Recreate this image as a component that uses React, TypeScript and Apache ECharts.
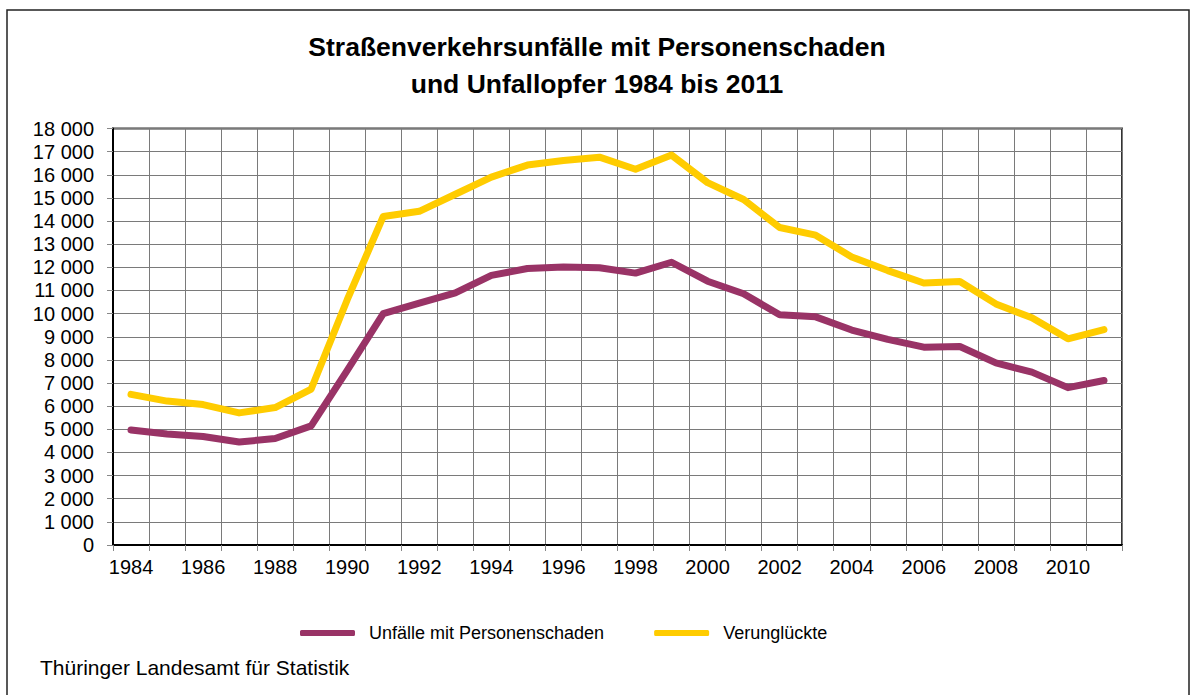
import React, { useEffect, useRef } from "react";
import * as echarts from "echarts";

const years: string[] = [
  "1984", "1985", "1986", "1987", "1988", "1989", "1990", "1991", "1992", "1993",
  "1994", "1995", "1996", "1997", "1998", "1999", "2000", "2001", "2002", "2003",
  "2004", "2005", "2006", "2007", "2008", "2009", "2010", "2011",
];

const unfaelle: number[] = [
  4970, 4800, 4690, 4450, 4600, 5150, 7550, 10000, 10450, 10900,
  11650, 11950, 12010, 11980, 11750, 12220, 11400, 10860, 9950, 9860,
  9290, 8890, 8550, 8580, 7870, 7470, 6800, 7110,
];

const verunglueckte: number[] = [
  6510, 6220, 6070, 5710, 5940, 6740, 10600, 14200, 14420, 15160,
  15900, 16420, 16620, 16760, 16240, 16850, 15660, 14930, 13720, 13390,
  12450, 11860, 11320, 11390, 10420, 9820, 8910, 9310,
];

const seriesNames: string[] = ["Unfälle mit Personenschaden", "Verunglückte"];
const titleText = "Straßenverkehrsunfälle mit Personenschaden\nund Unfallopfer 1984 bis 2011";
const sourceText = "Thüringer Landesamt für Statistik";

const FONT = "'Liberation Sans', Arial, sans-serif";

export default function App() {
  const ref = useRef<HTMLDivElement>(null);

  useEffect(() => {
    if (!ref.current) return;
    const chart = echarts.init(ref.current, null, { renderer: "svg" });
    const fmt = (v: number) =>
      String(v).replace(/\B(?=(\d{3})+(?!\d))/g, " ");

    chart.setOption({
      animation: false,
      backgroundColor: "#ffffff",
      textStyle: { fontFamily: FONT },
      title: {
        text: titleText,
        left: "center",
        top: 23,
        textStyle: {
          fontFamily: FONT,
          fontSize: 26.5,
          fontWeight: "bold",
          color: "#000",
          lineHeight: 37,
        },
      },
      legend: {
        left: 295,
        top: 619,
        icon: "roundRect",
        itemWidth: 55,
        itemHeight: 6,
        itemGap: 50,
        textStyle: {
          fontFamily: FONT,
          fontSize: 18,
          color: "#000",
          padding: [0, 0, 0, 9],
        },
        data: seriesNames,
      },
      grid: {
        left: 113,
        right: 72,
        top: 128.5,
        bottom: 150,
        show: true,
        borderColor: "#333",
        borderWidth: 2,
        containLabel: false,
      },
      xAxis: {
        type: "category",
        data: years,
        boundaryGap: true,
        axisLine: { show: true, lineStyle: { color: "#000", width: 2 } },
        axisTick: {
          show: true,
          interval: 0,
          length: 6,
          lineStyle: { color: "#888" },
        },
        axisLabel: {
          interval: 1,
          margin: 12,
          fontSize: 20,
          fontFamily: FONT,
          color: "#000",
        },
        splitLine: {
          show: true,
          interval: 0,
          lineStyle: { color: "#7a7a7a", width: 1 },
        },
      },
      yAxis: {
        type: "value",
        min: 0,
        max: 18000,
        interval: 1000,
        axisLine: { show: true, lineStyle: { color: "#000", width: 2 } },
        axisTick: { show: true, length: 6, lineStyle: { color: "#888" } },
        axisLabel: {
          margin: 19,
          fontSize: 20,
          fontFamily: FONT,
          color: "#000",
          formatter: (v: number) => fmt(v),
        },
        splitLine: {
          show: true,
          lineStyle: { color: "#7a7a7a", width: 1 },
        },
      },
      series: [
        {
          name: seriesNames[0],
          type: "line",
          data: unfaelle,
          symbol: "none",
          color: "#993366",
          lineStyle: { color: "#993366", width: 7, cap: "round", join: "round" },
        },
        {
          name: seriesNames[1],
          type: "line",
          data: verunglueckte,
          symbol: "none",
          color: "#FFCC00",
          lineStyle: { color: "#FFCC00", width: 7, cap: "round", join: "round" },
        },
      ],
      graphic: [
        {
          type: "rect",
          shape: { x: 7, y: 10, width: 1182, height: 700 },
          style: { fill: "none", stroke: "#222", lineWidth: 1.5 },
          silent: true,
        },
        {
          type: "text",
          left: 40,
          top: 657,
          style: {
            text: sourceText,
            fontFamily: FONT,
            fontSize: 21,
            fill: "#000",
          },
        },
      ],
    });

    return () => chart.dispose();
  }, []);

  return (
    <div
      ref={ref}
      style={{ position: "fixed", left: 0, top: 0, width: 1194, height: 695 }}
    />
  );
}
